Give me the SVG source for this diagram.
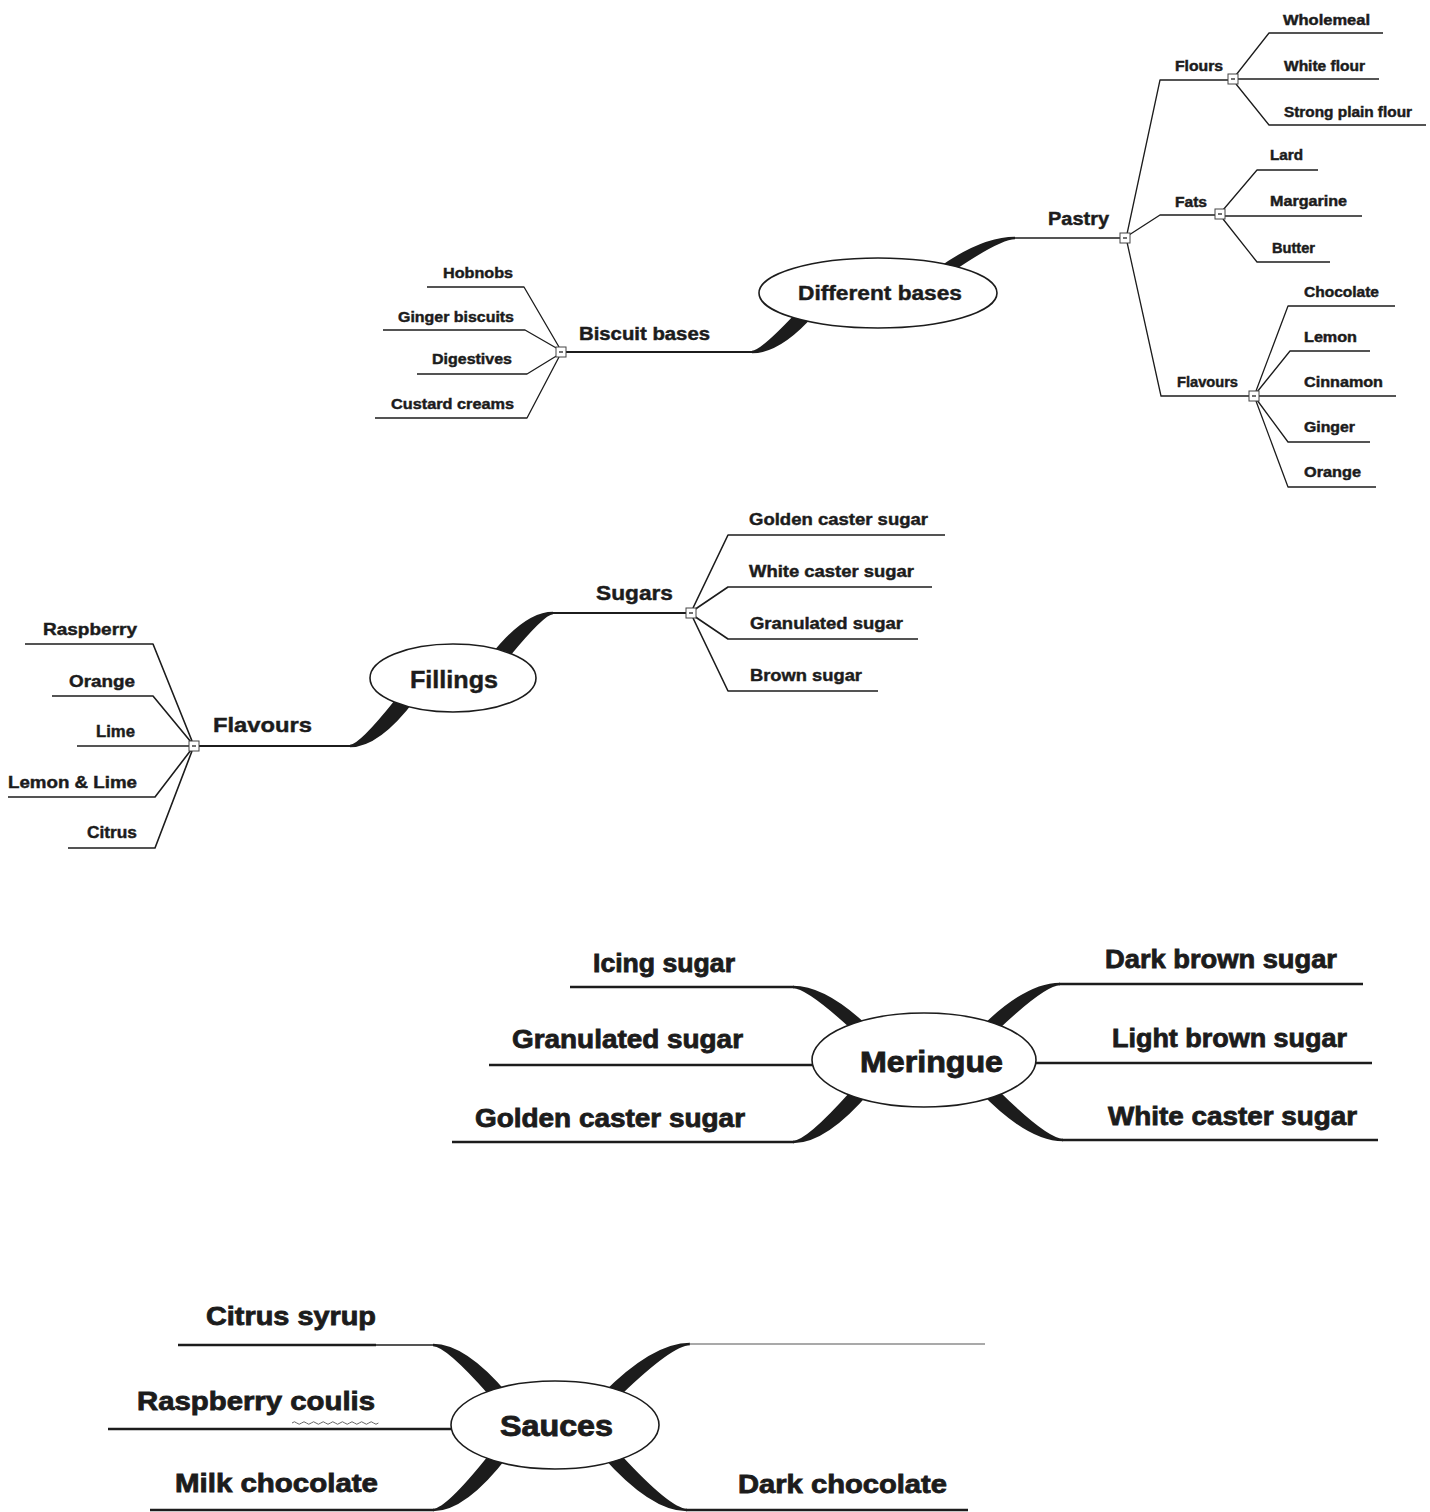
<svg xmlns="http://www.w3.org/2000/svg" width="1430" height="1512" viewBox="0 0 1430 1512">
<style>
.t{font-family:"Liberation Sans",Arial,sans-serif;font-weight:bold;fill:#1c1c1c;stroke:#1c1c1c;stroke-width:0.45}
.s14{font-size:14px}.s15{font-size:15px}.s17{font-size:17px}.s18{font-size:18px}.s20{font-size:20px}.s21{font-size:21px}.s24{font-size:24px}.s25{font-size:25px;stroke-width:0.8}.s30{font-size:30px;stroke-width:0.9}
.ln{fill:none;stroke:#1c1c1c;stroke-linejoin:round}
.w1{stroke-width:1.3}.w15{stroke-width:1.6}.w2{stroke-width:2.2}.w3{stroke-width:2.6}
.tp{fill:#1c1c1c}
.el{fill:#fff;stroke:#1c1c1c;stroke-width:1.6}
.bx{fill:#fff;stroke:#444;stroke-width:1}
.mn{stroke:#333;stroke-width:1.4}
</style>
<rect width="1430" height="1512" fill="#fff"/>

<g id="connectors">
  <path class="tp" d="M1015,236.7 Q980.5,236.7 935,270 L955,270 Q1000.5,239.3 1015,239.3 Z"/>
  <path class="tp" d="M752,350.7 Q760.5,350.7 795,314 L815,314 Q780.5,353.3 752,353.3 Z"/>
  <path class="tp" d="M553,611.7 Q524.5,611.7 490,656 L510,656 Q544.5,614.3 553,614.3 Z"/>
  <path class="tp" d="M350,744.7 Q359.25,744.7 395,700 L415,700 Q379.25,747.3 350,747.3 Z"/>
  <path class="tp" d="M793,985.7 Q826.45,985.7 870,1028 L850,1028 Q806.45,988.3 793,988.3 Z"/>
  <path class="tp" d="M793,1140.7 Q806.45,1140.7 850,1092 L870,1092 Q826.45,1143.3 793,1143.3 Z"/>
  <path class="tp" d="M1060,982.7 Q1025.5,982.7 980,1028 L1000,1028 Q1045.5,985.3 1060,985.3 Z"/>
  <path class="tp" d="M1063,1138.7 Q1047.45,1138.7 1000,1092 L980,1092 Q1027.45,1141.3 1063,1141.3 Z"/>
  <path class="tp" d="M433,1343.7 Q465.75,1343.7 508,1394 L488,1394 Q445.75,1346.3 433,1346.3 Z"/>
  <path class="tp" d="M433,1508.7 Q445.75,1508.7 488,1456 L508,1456 Q465.75,1511.3 433,1511.3 Z"/>
  <path class="tp" d="M690,1342.7 Q652.7,1342.7 602,1394 L622,1394 Q672.7,1345.3 690,1345.3 Z"/>
  <path class="tp" d="M687,1508.7 Q670.75,1508.7 622,1456 L602,1456 Q650.75,1511.3 687,1511.3 Z"/>

  <path class="ln w15" d="M1014,238 H1125"/>
  <path class="ln w2" d="M561,352 H753"/>
  <path class="ln w1" d="M1127,234 L1160,80 H1233"/>
  <path class="ln w1" d="M1129,235 L1160,215 H1220"/>
  <path class="ln w1" d="M1127,242 L1161,396 H1254"/>
  <path class="ln w1" d="M1236,75 L1269,33 H1383"/>
  <path class="ln w1" d="M1233,79 H1379"/>
  <path class="ln w1" d="M1236,84 L1269,125 H1426"/>
  <path class="ln w1" d="M1223,210 L1257,170 H1318"/>
  <path class="ln w1" d="M1220,216 H1362"/>
  <path class="ln w1" d="M1223,219 L1257,262 H1330"/>
  <path class="ln w1" d="M1256,391 L1288,306 H1395"/>
  <path class="ln w1" d="M1257,392 L1290,351 H1370"/>
  <path class="ln w1" d="M1254,396 H1396"/>
  <path class="ln w1" d="M1257,400 L1288,442 H1370"/>
  <path class="ln w1" d="M1256,401 L1288,487 H1376"/>
  <path class="ln w1" d="M559,347 L524,287 H427"/>
  <path class="ln w1" d="M558,349 L525,330 H383"/>
  <path class="ln w1" d="M558,355 L527,374 H417"/>
  <path class="ln w1" d="M559,357 L527,418 H375"/>

  <path class="ln w2" d="M552,613 H691"/>
  <path class="ln w2" d="M194,746 H351"/>
  <path class="ln w15" d="M693,608 L728,535 H945"/>
  <path class="ln w15" d="M694,610 L728,587 H932"/>
  <path class="ln w15" d="M694,616 L728,639 H918"/>
  <path class="ln w15" d="M693,618 L728,691 H878"/>
  <path class="ln w15" d="M192,741 L153,644 H25"/>
  <path class="ln w15" d="M191,742 L153,696 H52"/>
  <path class="ln w15" d="M194,746 H77"/>
  <path class="ln w15" d="M191,750 L155,797 H8"/>
  <path class="ln w15" d="M192,751 L155,848 H68"/>

  <path class="ln w3" d="M570,987 H794"/>
  <path class="ln w3" d="M489,1065 H815"/>
  <path class="ln w3" d="M452,1142 H794"/>
  <path class="ln w3" d="M1059,984 H1363"/>
  <path class="ln w3" d="M1034,1063 H1372"/>
  <path class="ln w3" d="M1062,1140 H1378"/>

  <path class="ln w3" d="M178,1345 H376"/>
  <path class="ln w1" d="M376,1345 H434"/>
  <path class="ln w3" d="M108,1429 H453"/>
  <path class="ln w3" d="M150,1510 H434"/>
  <path class="ln" style="stroke:#555;stroke-width:1.2" d="M689,1344 H985"/>
  <path class="ln w3" d="M686,1510 H968"/>
  <path d="M292,1423 q2.4,-2.5 4.8,0 t4.8,0 t4.8,0 t4.8,0 t4.8,0 t4.8,0 t4.8,0 t4.8,0 t4.8,0 t4.8,0 t4.8,0 t4.8,0 t4.8,0 t4.8,0 t4.8,0 t4.8,0 t4.8,0 t4.8,0" fill="none" stroke="#666" stroke-width="1"/>
</g>

<g id="node-different-bases">
  <ellipse class="el" cx="878" cy="293" rx="119" ry="35"/>
  <text class="t s20" x="798" y="300" textLength="164" lengthAdjust="spacingAndGlyphs">Different bases</text>
</g>
<g id="node-pastry">
  <text class="t s18" x="1048" y="225" textLength="61" lengthAdjust="spacingAndGlyphs">Pastry</text>
  <rect class="bx" x="1120" y="233" width="10" height="10"/><path class="mn" d="M1123,238 H1127"/>
</g>
<g id="node-flours">
  <text class="t s14" x="1175" y="71" textLength="48" lengthAdjust="spacingAndGlyphs">Flours</text>
  <rect class="bx" x="1228" y="74" width="10" height="10"/><path class="mn" d="M1231,79 H1235"/>
</g>
<g id="node-wholemeal"><text class="t s14" x="1283" y="25" textLength="87" lengthAdjust="spacingAndGlyphs">Wholemeal</text></g>
<g id="node-white-flour"><text class="t s14" x="1284" y="71" textLength="81" lengthAdjust="spacingAndGlyphs">White flour</text></g>
<g id="node-strong-plain-flour"><text class="t s14" x="1284" y="117" textLength="128" lengthAdjust="spacingAndGlyphs">Strong plain flour</text></g>
<g id="node-fats">
  <text class="t s14" x="1175" y="207" textLength="32" lengthAdjust="spacingAndGlyphs">Fats</text>
  <rect class="bx" x="1215" y="209" width="10" height="10"/><path class="mn" d="M1218,214 H1222"/>
</g>
<g id="node-lard"><text class="t s14" x="1270" y="160" textLength="33" lengthAdjust="spacingAndGlyphs">Lard</text></g>
<g id="node-margarine"><text class="t s14" x="1270" y="206" textLength="77" lengthAdjust="spacingAndGlyphs">Margarine</text></g>
<g id="node-butter"><text class="t s14" x="1272" y="253" textLength="43" lengthAdjust="spacingAndGlyphs">Butter</text></g>
<g id="node-flavours-pastry">
  <text class="t s14" x="1177" y="387" textLength="61" lengthAdjust="spacingAndGlyphs">Flavours</text>
  <rect class="bx" x="1249" y="391" width="10" height="10"/><path class="mn" d="M1252,396 H1256"/>
</g>
<g id="node-chocolate"><text class="t s14" x="1304" y="297" textLength="75" lengthAdjust="spacingAndGlyphs">Chocolate</text></g>
<g id="node-lemon"><text class="t s14" x="1304" y="342" textLength="53" lengthAdjust="spacingAndGlyphs">Lemon</text></g>
<g id="node-cinnamon"><text class="t s14" x="1304" y="387" textLength="79" lengthAdjust="spacingAndGlyphs">Cinnamon</text></g>
<g id="node-ginger"><text class="t s14" x="1304" y="432" textLength="51" lengthAdjust="spacingAndGlyphs">Ginger</text></g>
<g id="node-orange-pastry"><text class="t s14" x="1304" y="477" textLength="57" lengthAdjust="spacingAndGlyphs">Orange</text></g>
<g id="node-biscuit-bases">
  <text class="t s18" x="579" y="340" textLength="131" lengthAdjust="spacingAndGlyphs">Biscuit bases</text>
  <rect class="bx" x="556" y="347" width="10" height="10"/><path class="mn" d="M559,352 H563"/>
</g>
<g id="node-hobnobs"><text class="t s15" x="443" y="278" textLength="70" lengthAdjust="spacingAndGlyphs">Hobnobs</text></g>
<g id="node-ginger-biscuits"><text class="t s15" x="398" y="322" textLength="116" lengthAdjust="spacingAndGlyphs">Ginger biscuits</text></g>
<g id="node-digestives"><text class="t s15" x="432" y="364" textLength="80" lengthAdjust="spacingAndGlyphs">Digestives</text></g>
<g id="node-custard-creams"><text class="t s15" x="391" y="409" textLength="123" lengthAdjust="spacingAndGlyphs">Custard creams</text></g>

<g id="node-fillings">
  <ellipse class="el" cx="453" cy="678" rx="83" ry="34"/>
  <text class="t s24" x="410" y="688" textLength="88" lengthAdjust="spacingAndGlyphs">Fillings</text>
</g>
<g id="node-sugars">
  <text class="t s21" x="596" y="600" textLength="77" lengthAdjust="spacingAndGlyphs">Sugars</text>
  <rect class="bx" x="686" y="608" width="10" height="10"/><path class="mn" d="M689,613 H693"/>
</g>
<g id="node-golden-caster-sugar-f"><text class="t s17" x="749" y="525" textLength="179" lengthAdjust="spacingAndGlyphs">Golden caster sugar</text></g>
<g id="node-white-caster-sugar-f"><text class="t s17" x="749" y="577" textLength="165" lengthAdjust="spacingAndGlyphs">White caster sugar</text></g>
<g id="node-granulated-sugar-f"><text class="t s17" x="750" y="629" textLength="153" lengthAdjust="spacingAndGlyphs">Granulated sugar</text></g>
<g id="node-brown-sugar"><text class="t s17" x="750" y="681" textLength="112" lengthAdjust="spacingAndGlyphs">Brown sugar</text></g>
<g id="node-flavours-fillings">
  <text class="t s21" x="213" y="732" textLength="99" lengthAdjust="spacingAndGlyphs">Flavours</text>
  <rect class="bx" x="189" y="741" width="10" height="10"/><path class="mn" d="M192,746 H196"/>
</g>
<g id="node-raspberry"><text class="t s17" x="43" y="635" textLength="94" lengthAdjust="spacingAndGlyphs">Raspberry</text></g>
<g id="node-orange-f"><text class="t s17" x="69" y="687" textLength="66" lengthAdjust="spacingAndGlyphs">Orange</text></g>
<g id="node-lime"><text class="t s17" x="96" y="737" textLength="39" lengthAdjust="spacingAndGlyphs">Lime</text></g>
<g id="node-lemon-lime"><text class="t s17" x="8" y="788" textLength="129" lengthAdjust="spacingAndGlyphs">Lemon &amp; Lime</text></g>
<g id="node-citrus"><text class="t s17" x="87" y="838" textLength="50" lengthAdjust="spacingAndGlyphs">Citrus</text></g>

<g id="node-meringue">
  <ellipse class="el" cx="924" cy="1060" rx="112" ry="47"/>
  <text class="t s30" x="860" y="1072" textLength="143" lengthAdjust="spacingAndGlyphs">Meringue</text>
</g>
<g id="node-icing-sugar"><text class="t s25" x="593" y="972" textLength="142" lengthAdjust="spacingAndGlyphs">Icing sugar</text></g>
<g id="node-granulated-sugar-m"><text class="t s25" x="512" y="1048" textLength="231" lengthAdjust="spacingAndGlyphs">Granulated sugar</text></g>
<g id="node-golden-caster-sugar-m"><text class="t s25" x="475" y="1127" textLength="270" lengthAdjust="spacingAndGlyphs">Golden caster sugar</text></g>
<g id="node-dark-brown-sugar"><text class="t s25" x="1105" y="968" textLength="232" lengthAdjust="spacingAndGlyphs">Dark brown sugar</text></g>
<g id="node-light-brown-sugar"><text class="t s25" x="1112" y="1047" textLength="235" lengthAdjust="spacingAndGlyphs">Light brown sugar</text></g>
<g id="node-white-caster-sugar-m"><text class="t s25" x="1108" y="1125" textLength="249" lengthAdjust="spacingAndGlyphs">White caster sugar</text></g>

<g id="node-sauces">
  <ellipse class="el" cx="555" cy="1425" rx="104" ry="44"/>
  <text class="t s30" x="500" y="1436" textLength="113" lengthAdjust="spacingAndGlyphs">Sauces</text>
</g>
<g id="node-citrus-syrup"><text class="t s25" x="206" y="1325" textLength="170" lengthAdjust="spacingAndGlyphs">Citrus syrup</text></g>
<g id="node-raspberry-coulis"><text class="t s25" x="137" y="1410" textLength="238" lengthAdjust="spacingAndGlyphs">Raspberry coulis</text></g>
<g id="node-milk-chocolate"><text class="t s25" x="175" y="1492" textLength="203" lengthAdjust="spacingAndGlyphs">Milk chocolate</text></g>
<g id="node-dark-chocolate"><text class="t s25" x="738" y="1493" textLength="209" lengthAdjust="spacingAndGlyphs">Dark chocolate</text></g>
</svg>
